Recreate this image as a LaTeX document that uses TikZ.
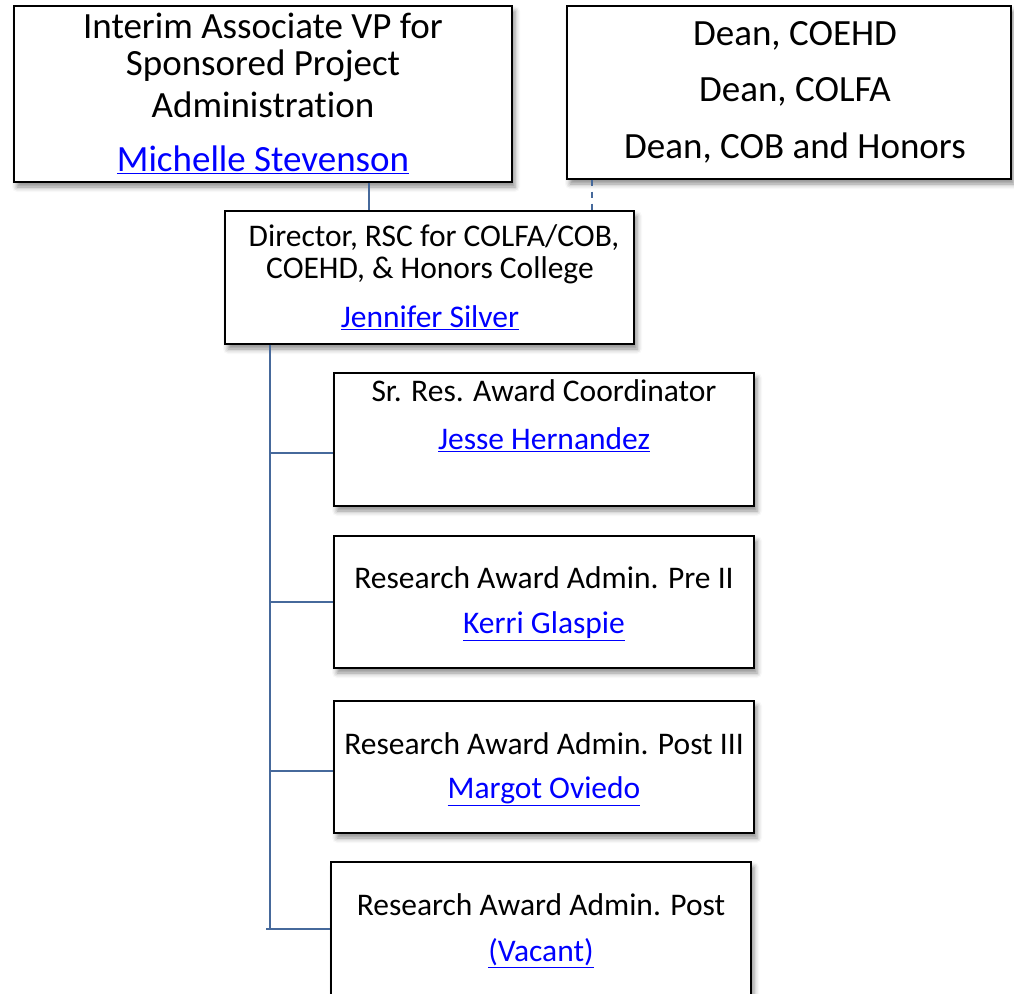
\documentclass[tikz,border=0pt]{standalone}
\usepackage{fontspec}
\setmainfont{Carlito}[Ligatures={NoCommon}, RawFeature={-liga;-clig;-calt}]
\usetikzlibrary{shadows.blur}
\definecolor{linkblue}{RGB}{0,0,255}
\definecolor{conn}{RGB}{70,105,155}
\tikzset{
  orgbox/.style={draw=black, line width=1.3pt, fill=white, rectangle, inner sep=0pt,
    blur shadow={shadow xshift=3pt, shadow yshift=-5pt, shadow blur radius=5pt, shadow opacity=45}},
  txt/.style={inner sep=0pt, anchor=center, text=black},
  lnk/.style={inner sep=0pt, anchor=center, text=linkblue},
  connector/.style={draw=conn, line width=1.6pt},
}
\newcommand{\lk}[1]{\underline{#1}}
\begin{document}
\begin{tikzpicture}[x=1pt,y=-1pt]
\useasboundingbox (0,0) rectangle (1014,993);
% boxes
\node[orgbox, minimum width=498pt, minimum height=176pt] (vp) at (263,94) {};
\node[orgbox, minimum width=444pt, minimum height=173pt] (dean) at (789,92.5) {};
\node[orgbox, minimum width=409pt, minimum height=133pt] (dir) at (429.5,277.5) {};
\node[orgbox, minimum width=420pt, minimum height=133pt] (b1) at (544,439.5) {};
\node[orgbox, minimum width=420pt, minimum height=132pt] (b2) at (544,602) {};
\node[orgbox, minimum width=420pt, minimum height=132pt] (b3) at (544,767) {};
\node[orgbox, minimum width=420pt, minimum height=160pt] (b4) at (541,942) {};
% texts
\begin{scope}[font=\fontsize{37}{44}\selectfont]
\node[txt] (vp1) at (263,26) {Interim Associate VP for};
\node[txt] (vp2) at (263,66) {Sponsored Project};
\node[txt] (vp3) at (263,105) {Administration};
\node[lnk] (vp4) at (263,160) {\lk{Michelle Stevenson}};
\node[txt] (d1) at (795,36) {Dean, COEHD};
\node[txt] (d2) at (795,92) {Dean, COLFA};
\node[txt] (d3) at (795,148) {Dean, COB and Honors};
\end{scope}
\begin{scope}[font=\fontsize{31.5}{37}\selectfont]
\node[txt] (dir1) at (434,238) {Director, RSC for COLFA/COB,};
\node[txt] (dir2) at (430,270) {COEHD, \& Honors College};
\node[lnk] (dir3) at (430,318) {\lk{Jennifer Silver}};
\node[txt] (b1a) at (544,391) {Sr. Res. Award Coordinator};
\node[lnk] (b1b) at (544,440) {\lk{Jesse Hernandez}};
\node[txt] (b2a) at (544,578) {Research Award Admin. Pre II};
\node[lnk] (b2b) at (544,626) {\lk{Kerri Glaspie}};
\node[txt] (b3a) at (544,744) {Research Award Admin. Post III};
\node[lnk] (b3b) at (544,791) {\lk{Margot Oviedo}};
\node[txt] (b4a) at (541,905) {Research Award Admin. Post};
\node[lnk] (b4b) at (541,953) {\lk{(Vacant)}};
\end{scope}
% connectors
\draw[connector] (vp.south -| 369,0) -- (dir.north -| 369,0);
\draw[connector, dash pattern=on 6pt off 6pt] (dean.south -| 592,0) -- (dir.north -| 592,0);
\coordinate (trunkend) at (270,929);
\draw[connector] (dir.south -| 270,0) -- (trunkend);
\draw[connector] (270,453) -- (b1.west |- 0,453);
\draw[connector] (270,602) -- (b2.west |- 0,602);
\draw[connector] (270,771) -- (b3.west |- 0,771);
\draw[connector] (266,929) -- (b4.west |- 0,929);
\end{tikzpicture}
\end{document}
